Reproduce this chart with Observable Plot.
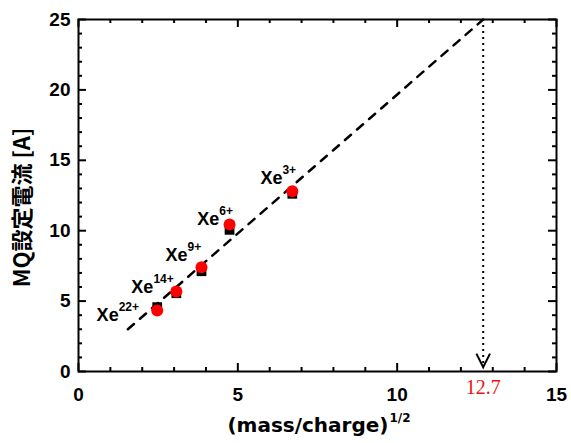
<!DOCTYPE html>
<html>
<head>
<meta charset="utf-8">
<script src="https://cdn.jsdelivr.net/npm/d3@7"></script>
<script src="https://cdn.jsdelivr.net/npm/@observablehq/plot@0.6"></script>
<style>
  html, body { margin: 0; padding: 0; background: #fff; }
</style>
</head>
<body>
<div id="chart"></div>
<script>
// ---- data ----
const ionBase = ["Xe", "Xe", "Xe", "Xe", "Xe"];
const ionCharge = ["22+", "14+", "9+", "6+", "3+"];
const sqrtMassCharge = [2.47, 3.07, 3.86, 4.74, 6.71];
const currentRed = [4.33, 5.68, 7.41, 10.44, 12.81];
const currentBlack = [4.57, 5.56, 7.12, 10.06, 12.62];
const labelX = [1.26, 2.35, 3.42, 4.42, 6.40];
const labelY = [3.62, 5.54, 7.88, 10.44, 13.35];
const fitX = [1.55, 12.7];
const fitY = [3.0, 25];
const extrapX = [12.7];
const extrapLabel = ["12.7"];
const xTicks = [0, 5, 10, 15];
const yTicks = [0, 5, 10, 15, 20, 25];
const xMinor = d3.range(0, 16, 1).filter(v => !xTicks.includes(v));
const yMinor = d3.range(0, 26, 1).filter(v => !yTicks.includes(v));
const yTitle = "MQ設定電流 [A]";
const xTitle = "(mass/charge)";
const xTitleSup = "1/2";

// ---- derived tables ----
const points = sqrtMassCharge.map((x, i) => ({x, red: currentRed[i], black: currentBlack[i],
  lx: labelX[i], ly: labelY[i], base: ionBase[i], charge: ionCharge[i]}));
const fit = fitX.map((x, i) => ({x, y: fitY[i]}));

const W = 571, H = 443;
const mL = 78, mR = 15, mT = 19, mB = 72;
const fw = W - mL - mR, fh = H - mT - mB;

const vSymbol = {
  draw(context, size) {
    const r = Math.sqrt(size / Math.PI);
    context.moveTo(-r * 0.85, -r * 1.7);
    context.lineTo(0, 0);
    context.lineTo(r * 0.85, -r * 1.7);
  }
};

const latin = "'Liberation Sans', Arial, sans-serif";

const chart = Plot.plot({
  width: W, height: H,
  marginLeft: mL, marginRight: mR, marginTop: mT, marginBottom: mB,
  style: {fontFamily: latin, fontSize: "19px", fontWeight: "bold", background: "#fff", color: "#000"},
  x: {domain: [0, 15]},
  y: {domain: [0, 25]},
  marks: [
    // tick labels
    Plot.axisX({ticks: xTicks, tickSize: 0, tickPadding: 16, label: null, fontSize: 19}),
    Plot.axisY({ticks: yTicks, tickSize: 0, tickPadding: 8, label: null, fontSize: 19}),
    // inward ticks, all four sides
    Plot.tickX(xTicks, {x: d => d, insetTop: fh - 8, strokeWidth: 2}),
    Plot.tickX(xMinor, {x: d => d, insetTop: fh - 4, strokeWidth: 2}),
    Plot.tickX(xTicks, {x: d => d, insetBottom: fh - 8, strokeWidth: 2}),
    Plot.tickX(xMinor, {x: d => d, insetBottom: fh - 4, strokeWidth: 2}),
    Plot.tickY(yTicks, {y: d => d, insetRight: fw - 8, strokeWidth: 2}),
    Plot.tickY(yMinor, {y: d => d, insetRight: fw - 4, strokeWidth: 2}),
    Plot.tickY(yTicks, {y: d => d, insetLeft: fw - 8, strokeWidth: 2}),
    Plot.tickY(yMinor, {y: d => d, insetLeft: fw - 4, strokeWidth: 2}),
    Plot.frame({stroke: "#000", strokeWidth: 2}),
    // fit line
    Plot.line(fit, {x: "x", y: "y", stroke: "#000", strokeWidth: 2.5, strokeDasharray: "8,8"}),
    // extrapolation
    Plot.ruleX(extrapX, {x: d => d, y1: 25, y2: 0.35, stroke: "#000", strokeWidth: 2, strokeDasharray: "2,4"}),
    Plot.dot(extrapX, {x: d => d, y: 0.3, symbol: vSymbol, r: 8, fill: "none", stroke: "#000", strokeWidth: 2}),
    Plot.text(extrapLabel, {x: () => extrapX[0], y: 0, text: d => d, dy: 22, lineAnchor: "bottom",
      fill: "#ee1111", fontFamily: "'Liberation Serif', 'Times New Roman', serif", fontWeight: "normal", fontSize: 20}),
    // data
    Plot.dot(points, {x: "x", y: "black", symbol: "square", r: 5.5, fill: "#000"}),
    Plot.dot(points, {x: "x", y: "red", r: 6, fill: "#ff0000"}),
    // ion labels
    Plot.text(points, {x: "lx", y: "ly", text: "base", textAnchor: "end", lineAnchor: "bottom", fontSize: 18, fontWeight: "bold"}),
    Plot.text(points, {x: "lx", y: "ly", text: "charge", textAnchor: "start", lineAnchor: "bottom", dy: -10, fontSize: 12, fontWeight: "bold"}),
    // axis titles
    Plot.text([yTitle], {frameAnchor: "left", text: d => d, rotate: -90, textAnchor: "middle", lineAnchor: "middle",
      dx: -56, dy: 12,
      fontFamily: "'Noto Sans CJK JP', sans-serif", fontSize: 22, fontWeight: "bold"}),
    Plot.text([xTitle], {frameAnchor: "bottom", text: d => d, textAnchor: "end", lineAnchor: "bottom", dx: 71, dy: 60,
      fontFamily: "'DejaVu Sans', sans-serif", fontSize: 20, fontWeight: "bold"}),
    Plot.text([xTitleSup], {frameAnchor: "bottom", text: d => d, textAnchor: "start", lineAnchor: "bottom", dx: 72, dy: 50,
      fontFamily: "'DejaVu Sans', sans-serif", fontSize: 12, fontWeight: "bold"})
  ]
});
document.getElementById("chart").appendChild(chart);
</script>
</body>
</html>
